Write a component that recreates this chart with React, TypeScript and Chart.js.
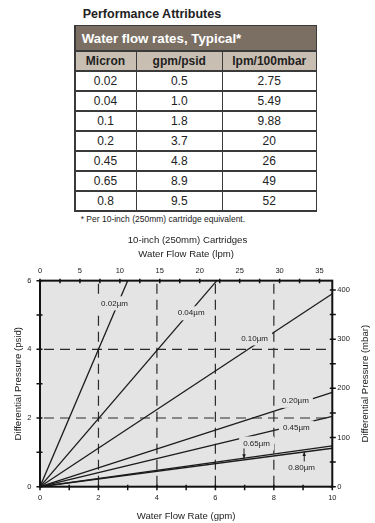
import React, { useEffect, useRef } from "react";
import { Chart, registerables } from "chart.js";

Chart.register(...registerables);

// ---- Table data ----
const microns = ["0.02", "0.04", "0.1", "0.2", "0.45", "0.65", "0.8"];
const gpmPerPsid = ["0.5", "1.0", "1.8", "3.7", "4.8", "8.9", "9.5"];
const lpmPer100mbar = ["2.75", "5.49", "9.88", "20", "26", "49", "52"];

// ---- Chart data ----
const curveNames = ["0.02µm", "0.04µm", "0.10µm", "0.20µm", "0.45µm", "0.65µm", "0.80µm"];
const curveEndGpm = [3.0, 6.05, 10, 10, 10, 10, 10];
const curveEndPsi = [6, 6, 5.62, 2.75, 2.05, 1.19, 1.12];
const labelGpm = [2.55, 5.17, 7.34, 8.74, 8.77, 7.41, 8.95];
const labelPsi = [5.34, 5.05, 4.32, 2.5, 1.72, 1.26, 0.56];
const leaderGpm = [null, null, null, null, null, 6.98, 9.04];

const gpmTicks = [0, 1, 2, 3, 4, 5, 6, 7, 8, 9, 10];
const psiTicks = [0, 1, 2, 3, 4, 5, 6];
const lpmTicks = [0, 2.5, 5, 7.5, 10, 12.5, 15, 17.5, 20, 22.5, 25, 27.5, 30, 32.5, 35];
const mbarTicks = [0, 50, 100, 150, 200, 250, 300, 350, 400];
const gridGpm = [2, 4, 6, 8];
const gridPsi = [2, 4];

const FONT = "'Liberation Sans', Arial, Helvetica, sans-serif";
const PLOT_BG = "#e4e4e4";
const INK = "#1c1c1c";

const decor = {
  id: "decor",
  beforeDatasetsDraw(chart: any) {
    const { ctx, chartArea: a, scales } = chart;
    const x = scales.x;
    const y = scales.y;
    ctx.save();
    ctx.fillStyle = PLOT_BG;
    ctx.fillRect(a.left, a.top, a.right - a.left, a.bottom - a.top);
    ctx.strokeStyle = "#2a2a2a";
    ctx.lineWidth = 1.2;
    ctx.setLineDash([10, 6]);
    for (const g of gridGpm) {
      const px = x.getPixelForValue(g);
      ctx.beginPath();
      ctx.moveTo(px, a.top + 3);
      ctx.lineTo(px, a.bottom);
      ctx.stroke();
    }
    for (const p of gridPsi) {
      const py = y.getPixelForValue(p);
      ctx.beginPath();
      ctx.moveTo(a.left + 4, py);
      ctx.lineTo(a.right, py);
      ctx.stroke();
    }
    ctx.restore();
  },
  afterDatasetsDraw(chart: any) {
    const { ctx, chartArea: a, scales } = chart;
    const x = scales.x;
    const y = scales.y;
    ctx.save();
    // curve labels
    ctx.font = `8px ${FONT}`;
    ctx.textAlign = "center";
    ctx.textBaseline = "middle";
    curveNames.forEach((name, i) => {
      const cx = x.getPixelForValue(labelGpm[i]);
      const cy = y.getPixelForValue(labelPsi[i]);
      const w = ctx.measureText(name).width;
      ctx.fillStyle = PLOT_BG;
      ctx.fillRect(cx - w / 2 - 4, cy - 7, w + 8, 14);
      ctx.fillStyle = "#222";
      ctx.fillText(name, cx, cy);
      const lg = leaderGpm[i];
      if (lg != null) {
        const lx = x.getPixelForValue(lg);
        const ly = y.getPixelForValue((curveEndPsi[i] / curveEndGpm[i]) * lg);
        const sy = ly > cy ? cy + 5 : cy - 6;
        ctx.strokeStyle = INK;
        ctx.lineWidth = 1;
        ctx.beginPath();
        ctx.moveTo(lx, sy);
        ctx.lineTo(lx, ly);
        ctx.stroke();
        const dir = ly > sy ? 1 : -1;
        ctx.fillStyle = INK;
        ctx.beginPath();
        ctx.moveTo(lx, ly);
        ctx.lineTo(lx - 1.8, ly - dir * 4);
        ctx.lineTo(lx + 1.8, ly - dir * 4);
        ctx.closePath();
        ctx.fill();
      }
    });
    // frame
    ctx.strokeStyle = "#111";
    ctx.lineWidth = 2;
    ctx.strokeRect(a.left, a.top, a.right - a.left, a.bottom - a.top);
    // ticks
    ctx.lineWidth = 1.5;
    ctx.beginPath();
    for (const v of gpmTicks) {
      const px = x.getPixelForValue(v);
      ctx.moveTo(px, a.bottom - 2);
      ctx.lineTo(px, a.bottom + 3.5);
    }
    for (const v of lpmTicks) {
      const px = scales.x2.getPixelForValue(v);
      ctx.moveTo(px, a.top - 2);
      ctx.lineTo(px, a.top + 2.5);
    }
    for (const v of psiTicks) {
      const py = y.getPixelForValue(v);
      ctx.moveTo(a.left - 3.5, py);
      ctx.lineTo(a.left + 2.5, py);
    }
    for (const v of mbarTicks) {
      const py = scales.y2.getPixelForValue(v);
      ctx.moveTo(a.right - 2.5, py);
      ctx.lineTo(a.right + 3.5, py);
    }
    ctx.stroke();
    // right axis title (reads bottom to top)
    ctx.fillStyle = "#222";
    ctx.font = `9.6px ${FONT}`;
    ctx.textAlign = "center";
    ctx.textBaseline = "middle";
    ctx.translate(365, (a.top + a.bottom) / 2);
    ctx.rotate(-Math.PI / 2);
    ctx.fillText("Differential Pressure (mbar)", 0, 0);
    ctx.restore();
  },
};

const tickFont = { size: 7.5, family: FONT };
const titleFont = { size: 9.6, family: FONT, weight: "normal" };

function ChartBox() {
  const ref = useRef<HTMLCanvasElement | null>(null);
  useEffect(() => {
    if (!ref.current) return;
    const datasets = curveNames.map((name, i) => ({
      label: name,
      data: [
        { x: 0, y: 0 },
        { x: curveEndGpm[i], y: curveEndPsi[i] },
      ],
      showLine: true,
      borderColor: INK,
      borderWidth: 1.3,
      pointRadius: 0,
      xAxisID: "x",
      yAxisID: "y",
    }));
    const chart = new Chart(ref.current, {
      type: "scatter",
      data: { datasets },
      plugins: [decor],
      options: {
        responsive: false,
        animation: false,
        devicePixelRatio: 1,
        layout: { padding: 0, autoPadding: false },
        plugins: {
          legend: { display: false },
          tooltip: { enabled: false },
          title: {
            display: true,
            text: "10-inch (250mm) Cartridges",
            color: "#222",
            font: titleFont,
            padding: { top: 6.2, bottom: 0 },
          },
        },
        scales: {
          x: {
            type: "linear",
            position: "bottom",
            min: 0,
            max: 10,
            afterBuildTicks: (s: any) => {
              s.ticks = gpmTicks.map((v) => ({ value: v }));
            },
            afterFit: (s: any) => {
              s.height = 36.3;
            },
            ticks: {
              callback: (v: any) => (Number(v) % 2 === 0 ? String(v) : ""),
              font: tickFont,
              color: "#222",
              padding: 7.2,
              maxRotation: 0,
              autoSkip: false,
            },
            grid: { display: false, drawTicks: false },
            border: { display: false },
            title: {
              display: true,
              text: "Water Flow Rate (gpm)",
              color: "#222",
              font: titleFont,
              padding: { top: 0, bottom: 0.8 },
            },
          },
          x2: {
            type: "linear",
            position: "top",
            min: 0,
            max: 36.6,
            afterBuildTicks: (s: any) => {
              s.ticks = lpmTicks.map((v) => ({ value: v }));
            },
            afterFit: (s: any) => {
              s.height = 34.94;
            },
            ticks: {
              callback: (v: any) => (Number(v) % 5 === 0 ? String(v) : ""),
              font: tickFont,
              color: "#222",
              padding: 5.5,
              maxRotation: 0,
              autoSkip: false,
            },
            grid: { display: false, drawTicks: false },
            border: { display: false },
            title: {
              display: true,
              text: "Water Flow Rate (lpm)",
              color: "#222",
              font: titleFont,
              padding: { top: 2.8, bottom: 0 },
            },
          },
          y: {
            type: "linear",
            position: "left",
            min: 0,
            max: 6,
            afterBuildTicks: (s: any) => {
              s.ticks = psiTicks.map((v) => ({ value: v }));
            },
            afterFit: (s: any) => {
              s.width = 40;
            },
            ticks: {
              callback: (v: any) => (Number(v) % 2 === 0 ? String(v) : ""),
              font: tickFont,
              color: "#222",
              padding: 8.5,
              autoSkip: false,
            },
            grid: { display: false, drawTicks: false },
            border: { display: false },
            title: {
              display: true,
              text: "Differential Pressure (psid)",
              color: "#222",
              font: titleFont,
              padding: { top: 12.2, bottom: 0 },
            },
          },
          y2: {
            type: "linear",
            position: "right",
            min: 0,
            max: 419,
            afterBuildTicks: (s: any) => {
              s.ticks = mbarTicks.map((v) => ({ value: v }));
            },
            afterFit: (s: any) => {
              s.width = 42.7;
            },
            ticks: {
              callback: (v: any) => (Number(v) % 100 === 0 ? String(v) : ""),
              font: tickFont,
              color: "#222",
              padding: 5,
              autoSkip: false,
            },
            grid: { display: false, drawTicks: false },
            border: { display: false },
          },
        },
      } as any,
    });
    return () => chart.destroy();
  }, []);
  return (
    <canvas
      ref={ref}
      width={375}
      height={295}
      style={{ position: "absolute", left: 0, top: 228, width: 375, height: 295, display: "block" }}
    />
  );
}

const cellBase: React.CSSProperties = {
  display: "flex",
  alignItems: "center",
  justifyContent: "center",
  background: "#fff",
  color: "#222",
  fontSize: 12,
};

export default function App() {
  return (
    <div
      style={{
        position: "fixed",
        left: 0,
        top: 0,
        width: 375,
        height: 523,
        background: "#fff",
        fontFamily: FONT,
        overflow: "hidden",
      }}
    >
      <div
        style={{
          position: "absolute",
          left: 82.7,
          top: 7.7,
          fontSize: 12.5,
          lineHeight: "12.5px",
          fontWeight: "bold",
          color: "#222",
          whiteSpace: "nowrap",
        }}
      >
        Performance Attributes
      </div>
      <div
        style={{
          position: "absolute",
          left: 74,
          top: 24.5,
          width: 243,
          boxSizing: "border-box",
          padding: 1.5,
          display: "grid",
          gridTemplateColumns: "60px 84.5px 92.5px",
          gridTemplateRows: "24.25px 18.5px repeat(7, 18.5px)",
          gap: 1.5,
          background: "#3a3a3a",
        }}
      >
        <div
          style={{
            gridColumn: "1 / span 3",
            background: "#7b6f63",
            color: "#fff",
            fontWeight: "bold",
            fontSize: 13.3,
            display: "flex",
            alignItems: "center",
            paddingLeft: 6.2,
            whiteSpace: "nowrap",
          }}
        >
          Water flow rates, Typical*
        </div>
        {["Micron", "gpm/psid", "lpm/100mbar"].map((h) => (
          <div key={h} style={{ ...cellBase, background: "#c9beb2", fontWeight: "bold", color: "#1e1e1e" }}>
            {h}
          </div>
        ))}
        {microns.map((m, i) => (
          <React.Fragment key={m}>
            <div style={cellBase}>{m}</div>
            <div style={cellBase}>{gpmPerPsid[i]}</div>
            <div style={cellBase}>{lpmPer100mbar[i]}</div>
          </React.Fragment>
        ))}
      </div>
      <div
        style={{
          position: "absolute",
          left: 80.7,
          top: 214.8,
          fontSize: 8.5,
          lineHeight: "8.5px",
          color: "#222",
          whiteSpace: "nowrap",
        }}
      >
        * Per 10-inch (250mm) cartridge equivalent.
      </div>
      <ChartBox />
    </div>
  );
}
